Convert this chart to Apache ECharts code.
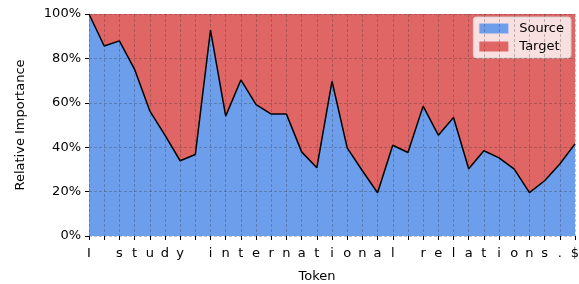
<!DOCTYPE html>
<html>
<head>
<meta charset="utf-8">
<script src="https://cdn.jsdelivr.net/npm/echarts@6/dist/echarts.min.js"></script>
<style>
  html, body { margin: 0; padding: 0; background: #fff; }
  #box { width: 579px; height: 284px; }
</style>
</head>
<body>
<div id="box"></div>
<script>
// one token per character of "I study international relations.$"
var tokens = ['I', ' ', 's', 't', 'u', 'd', 'y', ' ', 'i', 'n', 't', 'e', 'r', 'n', 'a', 't', 'i', 'o', 'n', 'a', 'l', ' ', 'r', 'e', 'l', 'a', 't', 'i', 'o', 'n', 's', '.', '$'];
// share of the source side, in percent
var sourceShare = [100, 85.6, 87.9, 75.1, 56.4, 45.4, 33.9, 36.7, 92.7, 54.0, 70.3, 59.2, 54.9, 54.9, 37.9, 30.7, 69.7,
  39.7, 29.4, 19.5, 40.9, 37.6, 58.5, 45.4, 53.4, 30.3, 38.4, 35.2, 30.1, 19.5, 24.9, 32.4, 41.5];
// target is whatever is left up to 100%
var targetShare = sourceShare.map(function (v) { return +(100 - v).toFixed(1); });
var yTicks = [0, 20, 40, 60, 80, 100];

var font = 'DejaVu Sans';
var fs = 13;
var gridLine = { show: true, lineStyle: { color: 'rgba(40,40,40,0.35)', type: [3, 2], width: 0.8 } };
var tick = { show: true, inside: false, length: 4, lineStyle: { color: '#000', width: 1 } };

var chart = echarts.init(document.getElementById('box'));
chart.setOption({
  animation: false,
  textStyle: { fontFamily: font },
  grid: { left: 89, right: 4, top: 14, bottom: 48, outerBoundsMode: 'none', containLabel: false },
  legend: {
    orient: 'vertical',
    right: 8,
    top: 17,
    padding: [5, 7, 5, 6],
    itemWidth: 29,
    itemHeight: 10,
    itemGap: 5,
    icon: 'rect',
    backgroundColor: 'rgba(255,255,255,0.8)',
    borderColor: 'rgba(210,210,210,0.9)',
    borderWidth: 1,
    borderRadius: 3,
    textStyle: { fontFamily: font, fontSize: fs, color: '#000', padding: [0, 0, 0, 6] },
    data: ['Source', 'Target']
  },
  xAxis: {
    type: 'category',
    boundaryGap: false,
    data: tokens,
    z: 10,
    name: 'Token',
    nameLocation: 'middle',
    nameGap: 34,
    nameTextStyle: { fontFamily: font, fontSize: fs, color: '#000', padding: [0, 30, 0, 0] },
    axisLine: { show: false },
    axisTick: Object.assign({ interval: 0 }, tick),
    axisLabel: { interval: 0, margin: 11, fontFamily: font, fontSize: fs, color: '#000' },
    splitLine: Object.assign({ interval: 0 }, gridLine)
  },
  yAxis: {
    type: 'value',
    min: yTicks[0],
    max: yTicks[yTicks.length - 1],
    interval: 20,
    z: 10,
    name: 'Relative Importance',
    nameLocation: 'middle',
    nameGap: 62,
    nameTextStyle: { fontFamily: font, fontSize: fs, color: '#000' },
    axisLine: { show: false },
    axisTick: tick,
    axisLabel: { margin: 8, fontFamily: font, fontSize: fs, color: '#000', formatter: '{value}%' },
    splitLine: gridLine
  },
  series: [
    {
      name: 'Source',
      type: 'line',
      stack: 'share',
      data: sourceShare,
      showSymbol: false,
      symbol: 'none',
      color: '#6d9eeb',
      lineStyle: { color: '#000', width: 1.5 },
      areaStyle: { color: '#6d9eeb', opacity: 1 }
    },
    {
      name: 'Target',
      type: 'line',
      stack: 'share',
      data: targetShare,
      showSymbol: false,
      symbol: 'none',
      color: '#e06666',
      lineStyle: { width: 0 },
      areaStyle: { color: '#e06666', opacity: 1 }
    }
  ]
});
</script>
</body>
</html>
